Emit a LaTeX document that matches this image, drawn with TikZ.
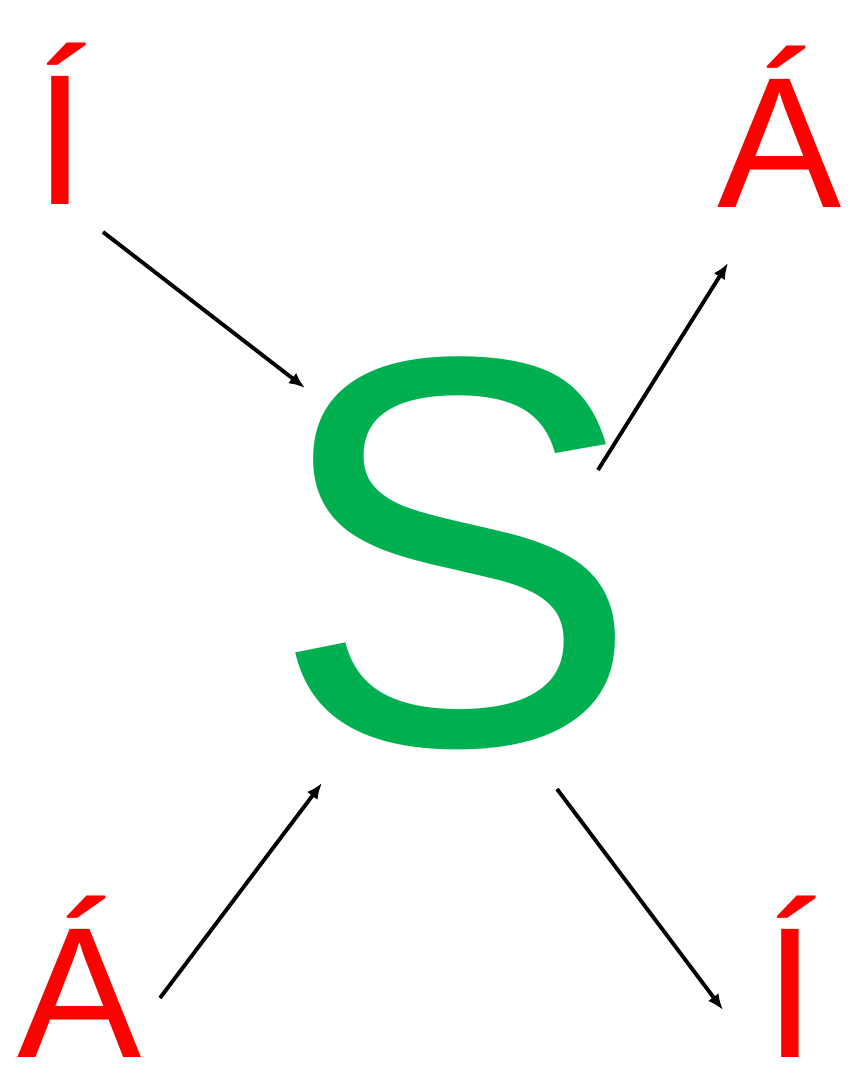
\documentclass[tikz,border=0pt]{standalone}
\usepackage{fontspec}
\setmainfont{Liberation Sans}
\usetikzlibrary{arrows.meta,positioning}
\definecolor{leafgreen}{RGB}{0,176,80}
\definecolor{signred}{RGB}{255,0,0}
\tikzset{
  >={Latex[length=1.6mm,width=1.3mm]},
  vowel/.style={text=signred,inner sep=0pt,anchor=base,
    font=\fontsize{53}{53}\selectfont},
  core/.style={text=leafgreen,inner sep=0pt,anchor=base,
    font=\fontsize{158}{158}\selectfont},
  flow/.style={->,line width=1.1pt,draw=black},
}
\begin{document}
\begin{tikzpicture}
  \useasboundingbox (0,0) rectangle (8.54,10.88);
  % letters
  \node[core] (s) at (4.56,3.43) {S};
  \node[vowel] (itl) at (0.60,8.83) {Í};
  \node[vowel] (atr) at (7.80,8.80) {Á};
  \node[vowel] (abl) at (0.80,0.30) {Á};
  \node[vowel] (ibr) at (7.90,0.30) {Í};
  % arrow ends
  \coordinate (p1) at (1.03,8.56);
  \coordinate (q1) at (3.05,7.00);
  \coordinate (p2) at (5.98,6.18);
  \coordinate (q2) at (7.28,8.25);
  \coordinate (p3) at (1.60,0.90);
  \coordinate (q3) at (3.22,3.05);
  \coordinate (p4) at (5.57,2.99);
  \coordinate (q4) at (7.23,0.78);
  \draw[flow] (p1) -- (q1);
  \draw[flow] (p2) -- (q2);
  \draw[flow] (p3) -- (q3);
  \draw[flow] (p4) -- (q4);
\end{tikzpicture}
\end{document}
